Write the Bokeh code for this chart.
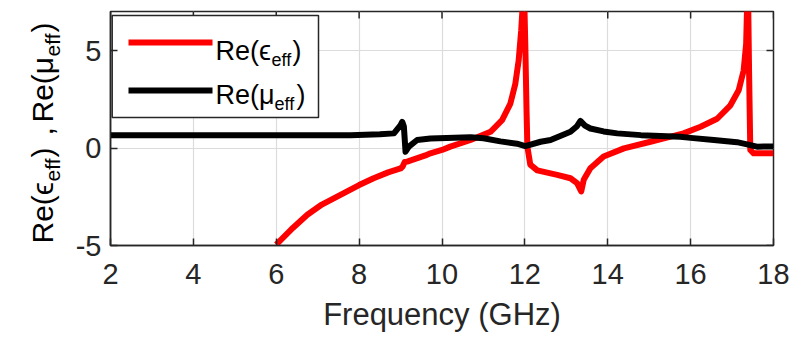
import math
from bokeh.plotting import figure
from bokeh.layouts import row
from bokeh.models import Range1d, FixedTicker, LinearAxis, Label
from bokeh.embed import file_html
from bokeh.resources import INLINE

# ---------------- data ----------------
x_ticks = [2, 4, 6, 8, 10, 12, 14, 16, 18]
y_ticks = [-5, 0, 5]
y_tick_labels = {-5: "-5", 0: "0", 5: "5"}

eps_freq = [6.0, 6.4, 6.75, 7.1, 7.55, 8.0, 8.35, 8.7, 9.0, 9.05, 9.1, 9.16, 9.3,
            9.6, 9.72, 10.0, 10.2, 10.69, 11.17, 11.45, 11.65, 11.77, 11.85,
            11.91, 11.94, 11.97, 12.01, 12.04, 12.06, 12.13, 12.3, 12.78, 13.1,
            13.26, 13.36, 13.42, 13.58, 13.9, 14.39, 15.03, 15.4, 15.83, 16.24,
            16.64, 16.96, 17.16, 17.28, 17.34, 17.36, 17.38, 17.41, 17.44,
            17.52, 18.0]
eps_re = [-4.95, -4.1, -3.42, -2.9, -2.4, -1.9, -1.55, -1.25, -1.05, -0.95,
          -0.72, -0.7, -0.6, -0.38, -0.27, -0.1, 0.07, 0.41, 0.83, 1.43, 2.28,
          3.3, 4.49, 6.0, 7.04, 9.0, 5.34, 1.94, 0.07, -0.85, -1.15, -1.38,
          -1.55, -1.8, -2.23, -1.63, -1.04, -0.44, -0.02, 0.32, 0.52, 0.75,
          1.09, 1.5, 2.19, 2.96, 3.98, 5.34, 7.04, 9.0, 4.0, -0.1, -0.27, -0.27]

mu_freq = [2.0, 4.0, 6.0, 7.79, 8.5, 8.84, 9.0, 9.04, 9.08, 9.12, 9.2, 9.4,
           9.72, 10.69, 11.0, 11.41, 11.81, 12.01, 12.38, 12.62, 13.1, 13.25,
           13.34, 13.45, 13.58, 13.9, 14.23, 14.8, 15.43, 15.75, 16.0, 16.56,
           17.12, 17.44, 17.6, 18.0]
mu_re = [0.65, 0.65, 0.65, 0.66, 0.7, 0.75, 1.17, 1.34, 1.1, -0.19, 0.07, 0.41,
         0.49, 0.55, 0.5, 0.34, 0.22, 0.1, 0.32, 0.41, 0.83, 1.1, 1.39, 1.15,
         1.0, 0.85, 0.75, 0.66, 0.6, 0.58, 0.52, 0.41, 0.3, 0.15, 0.07, 0.08]

x_label = "Frequency (GHz)"

# ---------------- styling constants ----------------
AX = "#262626"
FONT = "Liberation Sans"
X0, X1, Y0, Y1 = 2, 18, -5, 7
FW, FH = 663, 234          # plot-frame size in px
FRAME_TOP, FRAME_BOTTOM = 11, 245
SIDE_W, H = 66, 345        # side panel (y-axis title) width, total height
TICK = 7                   # inward tick length, px

p = figure(width=794 - SIDE_W, height=H, output_backend="svg", toolbar_location=None,
           x_range=Range1d(X0, X1), y_range=Range1d(Y0, Y1),
           min_border_left=110 - SIDE_W, min_border_right=21,
           min_border_top=FRAME_TOP, min_border_bottom=H - FRAME_BOTTOM,
           x_axis_location=None, y_axis_location=None)
p.background_fill_color = "white"
p.border_fill_color = "white"
p.outline_line_color = AX
p.outline_line_width = 1.5


def fx(px):
    return X0 + px * (X1 - X0) / FW


def fy(py):
    return Y1 - py * (Y1 - Y0) / FH


def style_axis(ax):
    ax.axis_line_color = AX
    ax.axis_line_width = 1.5
    ax.major_tick_line_color = AX
    ax.major_tick_line_width = 1.5
    ax.major_tick_in = TICK
    ax.major_tick_out = 0
    ax.minor_tick_line_color = None
    ax.major_label_text_font = FONT
    ax.major_label_text_color = AX
    ax.major_label_text_font_size = "29px"


xb = LinearAxis(ticker=FixedTicker(ticks=x_ticks))
style_axis(xb)
xb.major_label_standoff = 18
xb.axis_label = x_label
xb.axis_label_text_font = FONT
xb.axis_label_text_font_size = "31px"
xb.axis_label_text_font_style = "normal"
xb.axis_label_text_color = AX
xb.axis_label_standoff = 10
p.add_layout(xb, "below")

yl = LinearAxis(ticker=FixedTicker(ticks=y_ticks))
style_axis(yl)
yl.major_label_standoff = 9
yl.major_label_overrides = y_tick_labels
p.add_layout(yl, "left")

p.xgrid.ticker = FixedTicker(ticks=x_ticks)
p.ygrid.ticker = FixedTicker(ticks=y_ticks)
p.xgrid.grid_line_color = "#dcdcdc"
p.ygrid.grid_line_color = "#dcdcdc"
p.xgrid.grid_line_width = 1.2
p.ygrid.grid_line_width = 1.2

# inward ticks on the top and right edges of the box
dy = TICK * (Y1 - Y0) / FH
dx = TICK * (X1 - X0) / FW
p.segment(x0=x_ticks, x1=x_ticks, y0=[Y1] * len(x_ticks), y1=[Y1 - dy] * len(x_ticks),
          line_color=AX, line_width=1.5)
p.segment(x0=[X1] * len(y_ticks), x1=[X1 - dx] * len(y_ticks), y0=y_ticks, y1=y_ticks,
          line_color=AX, line_width=1.5)

# ---------------- curves ----------------
p.line(eps_freq, eps_re, line_color="#ff0000", line_width=6, line_join="round")
p.line(mu_freq, mu_re, line_color="#000000", line_width=6, line_join="round")

# ---------------- legend (drawn by hand, to allow subscripts) ----------------
p.quad(left=[fx(1.7)], right=[fx(208)], top=[fy(4)], bottom=[fy(106)],
       fill_color="white", line_color=AX, line_width=1.5)
p.line([fx(18), fx(102)], [fy(31), fy(31)], line_color="#ff0000", line_width=6)
p.line([fx(18), fx(102)], [fy(79), fy(79)], line_color="#000000", line_width=6)


def add_text(fig, txt, x, y, size, angle=0.0):
    fig.add_layout(Label(x=x, y=y, text=txt, text_font=FONT,
                         text_font_size=size, text_color="black",
                         text_align="left", text_baseline="alphabetic",
                         angle=angle))


LM, LS = "27px", "18px"
add_text(p, "Re(\u03f5", fx(105), fy(39), LM)
add_text(p, "eff", fx(161), fy(48), LS)
add_text(p, ")", fx(182), fy(39), LM)
add_text(p, "Re(\u03bc", fx(105), fy(83), LM)
add_text(p, "eff", fx(164), fy(92), LS)
add_text(p, ")", fx(186), fy(83), LM)

# ---------------- side panel: rotated y-axis title with subscripts ----------------
# its frame is aligned with the main frame (rows align frames), so data y == page y
s = figure(width=SIDE_W, height=H, output_backend="svg", toolbar_location=None,
           x_range=Range1d(0, SIDE_W), y_range=Range1d(FRAME_BOTTOM, FRAME_TOP),
           min_border=0, min_border_top=FRAME_TOP, min_border_bottom=H - FRAME_BOTTOM,
           x_axis_location=None, y_axis_location=None)
s.outline_line_color = None
s.xgrid.visible = False
s.ygrid.visible = False
s.background_fill_color = "white"
s.border_fill_color = "white"

A = math.pi / 2
YM, YS = "30px", "21px"
BM, BS = 42, 52            # baselines (px from left) of main text and subscripts
add_text(s, "Re(\u03f5", BM, 243, YM, A)
add_text(s, "eff", BS, 181, YS, A)
add_text(s, ")", BM, 157, YM, A)
add_text(s, ",", BM, 135, YM, A)
add_text(s, "Re(\u03bc", BM, 122, YM, A)
add_text(s, "eff", BS, 56, YS, A)
add_text(s, ")", BM, 32, YM, A)

layout = row(s, p, spacing=0)
open("out.html", "w").write(file_html(layout, INLINE))
